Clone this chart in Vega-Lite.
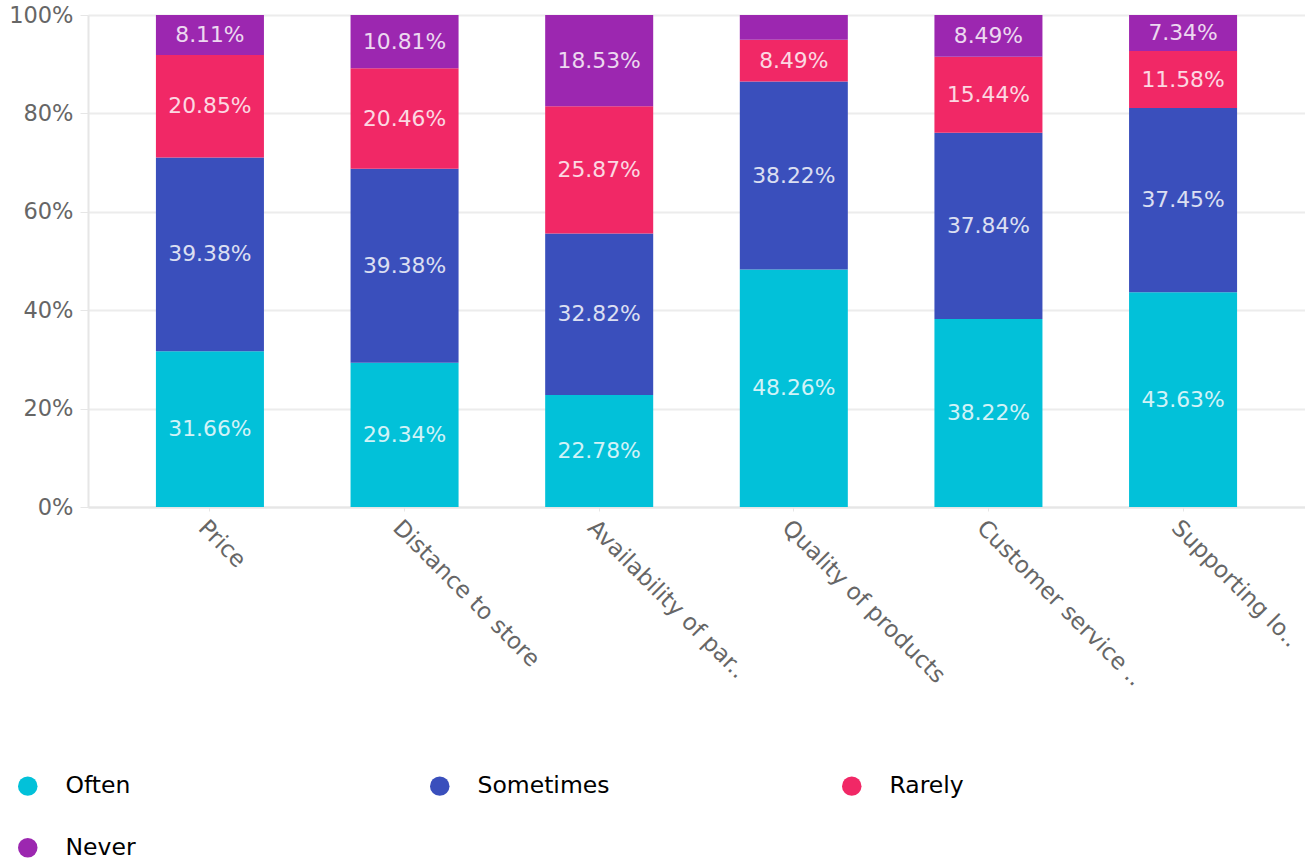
{
  "$schema": "https://vega.github.io/schema/vega-lite/v6.json",
  "width": 1217,
  "height": 492,
  "autosize": {"type": "none"},
  "padding": {"left": 88, "top": 15, "right": 0, "bottom": 355},
  "config": {
    "font": "DejaVu Sans",
    "view": {"stroke": null}
  },
  "data": {
    "values": [
      {"factor": "Price", "response": "Often", "value": 31.66},
      {"factor": "Price", "response": "Sometimes", "value": 39.38},
      {"factor": "Price", "response": "Rarely", "value": 20.85},
      {"factor": "Price", "response": "Never", "value": 8.11},
      {"factor": "Distance to store", "response": "Often", "value": 29.34},
      {"factor": "Distance to store", "response": "Sometimes", "value": 39.38},
      {"factor": "Distance to store", "response": "Rarely", "value": 20.46},
      {"factor": "Distance to store", "response": "Never", "value": 10.81},
      {"factor": "Availability of par..", "response": "Often", "value": 22.78},
      {"factor": "Availability of par..", "response": "Sometimes", "value": 32.82},
      {"factor": "Availability of par..", "response": "Rarely", "value": 25.87},
      {"factor": "Availability of par..", "response": "Never", "value": 18.53},
      {"factor": "Quality of products", "response": "Often", "value": 48.26},
      {"factor": "Quality of products", "response": "Sometimes", "value": 38.22},
      {"factor": "Quality of products", "response": "Rarely", "value": 8.49},
      {"factor": "Quality of products", "response": "Never", "value": 5.03},
      {"factor": "Customer service ..", "response": "Often", "value": 38.22},
      {"factor": "Customer service ..", "response": "Sometimes", "value": 37.84},
      {"factor": "Customer service ..", "response": "Rarely", "value": 15.44},
      {"factor": "Customer service ..", "response": "Never", "value": 8.49},
      {"factor": "Supporting lo..", "response": "Often", "value": 43.63},
      {"factor": "Supporting lo..", "response": "Sometimes", "value": 37.45},
      {"factor": "Supporting lo..", "response": "Rarely", "value": 11.58},
      {"factor": "Supporting lo..", "response": "Never", "value": 7.34}
    ]
  },
  "transform": [
    {"calculate": "indexof(['Often','Sometimes','Rarely','Never'], datum.response)", "as": "rank"},
    {"stack": "value", "groupby": ["factor"], "sort": [{"field": "rank", "order": "ascending"}], "offset": "normalize", "as": ["y0", "y1"]},
    {"calculate": "(datum.y0 + datum.y1) / 2", "as": "ymid"},
    {"calculate": "format(datum.value, '.2f') + '%'", "as": "label"}
  ],
  "encoding": {
    "x": {
      "field": "factor",
      "type": "nominal",
      "sort": null,
      "scale": {"paddingInner": 0.445, "paddingOuter": 0.349},
      "axis": {
        "title": null,
        "labelAngle": 45,
        "labelFontSize": 23,
        "labelColor": "#666666",
        "labelPadding": 5,
        "labelLimit": 400,
        "domainColor": "#e6e6e6",
        "domainWidth": 2,
        "tickColor": "#e6e6e6",
        "tickSize": 4
      }
    },
    "color": {
      "field": "response",
      "type": "nominal",
      "sort": ["Often", "Sometimes", "Rarely", "Never"],
      "scale": {
        "domain": ["Often", "Sometimes", "Rarely", "Never"],
        "range": ["#02c1d9", "#3a4fbc", "#f12866", "#9c27b0"]
      },
      "legend": {
        "title": null,
        "orient": "none",
        "legendX": -72,
        "legendY": 759,
        "direction": "horizontal",
        "columns": 3,
        "gridAlign": "all",
        "symbolType": "circle",
        "symbolSize": 380,
        "symbolStrokeWidth": 0,
        "symbolOpacity": 1,
        "labelFontSize": 23.5,
        "labelColor": "#000000",
        "labelOffset": 26,
        "columnPadding": 230,
        "rowPadding": 37
      }
    }
  },
  "layer": [
    {
      "mark": {"type": "bar"},
      "encoding": {
        "y": {
          "field": "y1",
          "type": "quantitative",
          "scale": {"domain": [0, 1], "nice": false},
          "axis": {
            "title": null,
            "format": ".0%",
            "values": [0, 0.2, 0.4, 0.6, 0.8, 1],
            "labelFontSize": 22.5,
            "labelColor": "#666666",
            "labelPadding": 7,
            "gridColor": "#ececec",
            "gridWidth": 2,
            "domainColor": "#e6e6e6",
            "domainWidth": 2,
            "tickColor": "#e6e6e6",
            "tickSize": 8
          }
        },
        "y2": {"field": "y0"}
      }
    },
    {
      "transform": [{"filter": "datum.value >= 6"}],
      "mark": {"type": "text", "opacity": 0.82, "fontSize": 21.8, "baseline": "middle"},
      "encoding": {
        "y": {"field": "ymid", "type": "quantitative"},
        "text": {"field": "label", "type": "nominal"},
        "color": {"value": "#ffffff"}
      }
    }
  ]
}
